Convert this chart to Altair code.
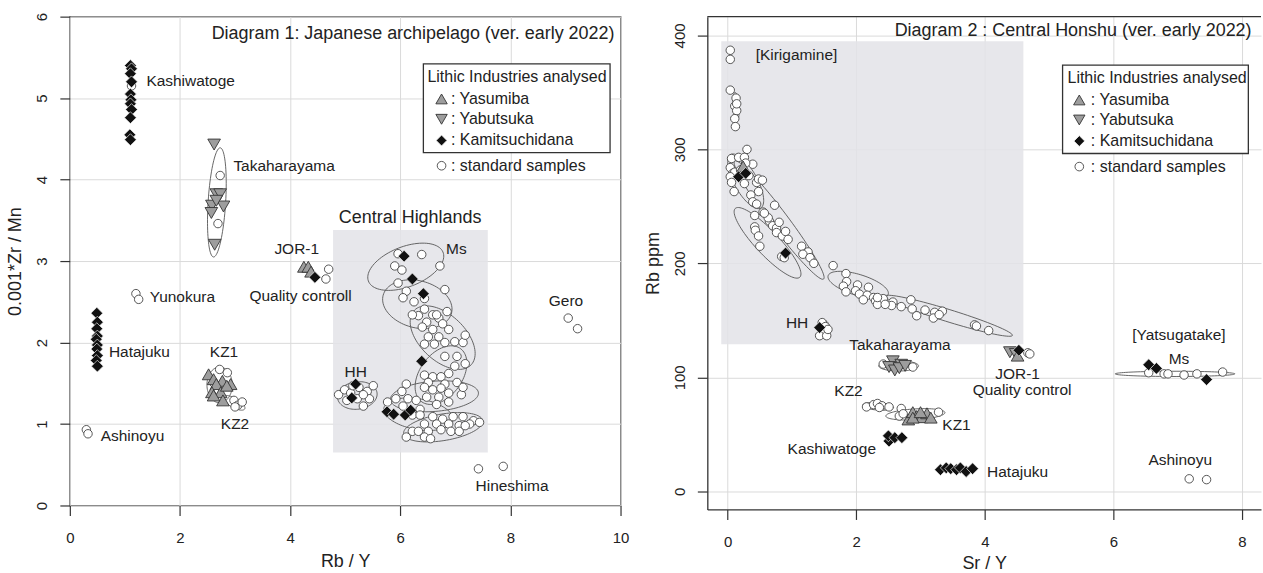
import altair as alt
import numpy as np
import pandas as pd

FONT = "Liberation Sans"
INK = "#222222"

# ================= Diagram 1 : Rb/Y  vs  0.001*Zr/Mn =================
d1_std_x = [1.12, 2.73, 2.69, 1.20, 1.25, 0.30, 0.33, 4.70, 4.65,
            2.72, 2.86, 2.62, 2.98, 3.05, 3.13, 3.00, 9.05, 9.22, 7.42, 7.87,
            4.88, 4.99, 5.10, 5.25, 5.40, 5.51, 5.03, 5.22, 5.33, 5.44, 5.33, 5.14,
            5.96, 6.39, 6.72, 5.90, 6.03, 5.96, 6.11, 6.05, 6.81, 6.25, 6.44, 6.44,
            6.33, 6.59, 6.85, 6.48, 6.70, 6.40, 6.59, 6.77, 6.88, 6.51, 6.70, 6.44,
            6.81, 6.99, 7.14, 7.18, 6.66, 6.22, 6.62,
            6.81, 7.03, 6.99, 7.18, 6.88, 6.44, 6.59, 6.74, 7.03, 6.51, 6.81, 6.44,
            6.59, 6.74, 6.88, 7.11, 6.48, 6.70, 6.88, 6.66, 7.14, 6.11, 6.03, 6.14,
            5.92, 6.29, 5.77, 6.05, 6.36,
            6.22, 6.36, 6.59, 6.77, 6.96, 7.14, 7.33, 7.44, 6.44, 6.66, 6.88, 7.07,
            7.26, 6.51, 6.74, 6.92, 7.07, 6.22, 6.33, 6.44, 6.11, 6.55, 7.18]
d1_std_y = [5.15, 4.05, 3.46, 2.60, 2.53, 0.93, 0.88, 2.90, 2.78,
            1.67, 1.63, 1.50, 1.29, 1.23, 1.27, 1.21, 2.30, 2.17, 0.45, 0.48,
            1.36, 1.42, 1.38, 1.45, 1.40, 1.47, 1.29, 1.31, 1.22, 1.31, 1.36, 1.47,
            3.09, 3.08, 2.94, 2.94, 2.89, 2.73, 2.63, 2.55, 2.65, 2.50, 2.54, 2.41,
            2.33, 2.34, 2.38, 2.25, 2.30, 2.19, 2.16, 2.23, 2.16, 2.07, 2.07, 1.98,
            2.00, 2.01, 2.00, 2.09, 2.34, 2.34, 1.98,
            1.83, 1.83, 1.71, 1.74, 1.62, 1.60, 1.58, 1.58, 1.51, 1.51, 1.49, 1.45,
            1.42, 1.44, 1.38, 1.36, 1.33, 1.33, 1.27, 1.24, 1.45, 1.49, 1.40, 1.31,
            1.31, 1.29, 1.27, 1.22, 1.18,
            1.11, 1.11, 1.09, 1.06, 1.09, 1.09, 1.04, 1.02, 1.00, 1.00, 1.00, 0.98,
            1.00, 0.91, 0.93, 0.91, 0.91, 0.91, 0.91, 0.84, 0.84, 0.82, 0.98]

# Kamitsuchidana (black diamonds)
d1_kami_x = [1.10, 1.12, 1.10, 1.12, 1.10, 1.11, 1.10, 1.12, 1.10, 1.09, 1.10,
             0.49, 0.50, 0.49, 0.50, 0.48, 0.50, 0.49, 0.50, 0.48, 0.50,
             4.45, 5.19, 5.12, 6.07, 6.22, 6.42, 6.39, 5.76, 5.88, 6.09, 6.19]
d1_kami_y = [5.40, 5.36, 5.30, 5.20, 5.05, 4.98, 4.93, 4.86, 4.76, 4.55, 4.49,
             2.36, 2.25, 2.17, 2.08, 2.04, 1.97, 1.92, 1.84, 1.78, 1.71,
             2.80, 1.49, 1.32, 3.06, 2.78, 2.60, 1.77, 1.15, 1.12, 1.11, 1.17]

# Yasumiba (grey triangles up)
d1_yasu_x = [2.52, 2.61, 2.77, 2.92, 2.66, 2.58, 2.74, 2.78, 2.61, 2.85, 4.25, 4.33, 4.38]
d1_yasu_y = [1.61, 1.55, 1.53, 1.49, 1.49, 1.39, 1.39, 1.29, 1.35, 1.47, 2.93, 2.93, 2.87]

# Yabutsuka (grey triangles down)
d1_yabu_x = [2.62, 2.66, 2.73, 2.58, 2.79, 2.57, 2.66, 2.63]
d1_yabu_y = [4.43, 3.82, 3.82, 3.68, 3.67, 3.59, 3.74, 3.20]

# confidence ellipses: centre, x-radius, y-radius, correlation
d1_ell_cx = [2.67, 2.72, 2.98, 5.22, 6.10, 6.31, 6.77, 6.74, 6.62, 6.33, 6.78]
d1_ell_cy = [3.72, 1.48, 1.26, 1.35, 2.93, 2.47, 2.06, 1.60, 1.34, 1.12, 0.96]
d1_ell_rx = [0.17, 0.23, 0.20, 0.36, 0.69, 0.63, 0.59, 0.47, 0.80, 0.63, 0.72]
d1_ell_ry = [0.67, 0.22, 0.09, 0.17, 0.29, 0.30, 0.39, 0.36, 0.19, 0.20, 0.18]
d1_ell_rho = [0.35, 0.0, -0.7, 0.1, 0.45, -0.2, -0.5, 0.4, 0.2, -0.3, 0.4]

d1_box = [4.78, 7.59, 0.65, 3.38]  # Central Highlands shaded area

d1_lab_text = ["Kashiwatoge", "Takaharayama", "Yunokura", "Hatajuku", "Ashinoyu",
               "JOR-1", "Quality controll", "KZ1", "KZ2", "HH", "Ms", "Gero", "Hineshima"]
d1_lab_x = [1.39, 2.97, 1.45, 0.71, 0.56, 4.12, 4.19, 2.80, 3.00, 5.19, 7.02, 9.01, 8.03]
d1_lab_y = [5.21, 4.17, 2.56, 1.88, 0.85, 3.15, 2.57, 1.88, 1.00, 1.64, 3.15, 2.51, 0.24]
d1_lab_align = ["left"] * 5 + ["center"] * 8

# ================= Diagram 2 : Sr/Y  vs  Rb ppm =================
d2_std_x = [0.04, 0.04, 0.04, 0.13, 0.11, 0.14, 0.11, 0.12, 0.14,
            0.06, 0.17, 0.30, 0.26, 0.39, 0.04, 0.08, 0.11, 0.04, 0.06, 0.10, 0.26,
            0.45, 0.48, 0.54, 0.33, 0.20, 0.28, 0.48, 0.36, 0.39, 0.45, 0.55, 0.73,
            0.42, 0.42, 0.43, 0.48, 0.50, 0.65, 0.70, 0.76, 0.80, 0.76, 0.85, 0.90,
            0.94, 0.84, 0.88, 1.15, 1.25, 1.17, 1.28, 1.34, 0.63, 0.57,
            1.64, 1.84, 1.85, 1.80, 1.84, 2.02, 1.99, 2.05, 2.19, 2.17, 2.27, 2.30,
            2.11, 2.33, 2.42, 2.57, 2.55, 2.70, 2.85, 2.87, 2.94, 3.07, 3.22, 3.34,
            3.20, 3.29, 3.84, 3.87, 4.06, 2.45, 2.33,
            1.47, 1.52, 1.48, 1.43, 1.54, 1.56,
            2.42, 2.88, 4.67, 4.70,
            6.55, 6.79, 6.85, 7.10, 7.30, 7.70,
            2.16, 2.27, 2.33, 2.40, 2.36, 2.51,
            2.70, 2.67, 3.28, 2.73,
            7.18, 7.45]
d2_std_y = [387, 379, 352, 345, 338, 334, 327, 320, 340,
            292, 293, 300, 293, 287, 284, 279, 280, 276, 271, 263, 270,
            271, 274, 273, 277, 282, 288, 263, 260, 254, 252, 245, 251,
            242, 232, 229, 224, 215, 237, 233, 231, 236, 227, 224, 228,
            221, 206, 205, 215, 210, 208, 205, 200, 240, 244,
            198, 191, 184, 180, 175, 181, 176, 173, 179, 172, 170, 167,
            168, 164, 169, 166, 163, 162, 168, 160, 154, 159, 157, 158,
            152, 155, 146, 145, 141, 164, 170,
            148, 144.5, 139.7, 136.5, 136.5, 142,
            111.6, 109, 121.5, 120.5,
            104, 103, 103, 102, 103, 104.6,
            74, 76, 77, 75, 73.5, 74,
            72.6, 66, 69.4, 68,
            10.9, 10.2]

d2_kami_x = [0.17, 0.28, 0.90, 1.43, 4.53, 6.55, 6.67, 7.45,
             2.51, 2.50, 2.60, 2.71,
             3.31, 3.40, 3.47, 3.56, 3.62, 3.71, 3.81]
d2_kami_y = [276, 279, 209, 143.6, 123.7, 111, 107.8, 98,
             44, 48.6, 47, 47,
             18.9, 20.5, 19.8, 18.9, 20.5, 17.3, 19.8]

d2_yasu_x = [0.24, 4.51, 2.81, 2.88, 2.94, 3.02, 3.10, 3.16, 2.88, 3.00]
d2_yasu_y = [285, 119, 63, 69.4, 66, 65, 68.4, 64.6, 64.6, 69.4]

d2_yabu_x = [2.57, 2.51, 2.60, 2.70, 2.67, 2.76, 4.39, 4.48]
d2_yabu_y = [114, 109, 106, 111, 108, 110, 122, 120.5]

d2_ell_cx = [0.13, 0.28, 0.80, 0.62, 2.03, 3.44, 2.66, 6.96, 2.34, 2.92, 1.50]
d2_ell_cy = [338, 272, 238, 218, 181, 154, 110, 103, 74.5, 67.5, 142]
d2_ell_rx = [0.05, 0.28, 0.70, 0.52, 0.47, 0.99, 0.31, 0.93, 0.24, 0.46, 0.09]
d2_ell_ry = [12, 24, 52, 31, 12, 18, 4.5, 2.3, 3.5, 5.0, 8]
d2_ell_rho = [-0.3, -0.7, -0.97, -0.88, -0.6, -0.95, 0.0, 0.0, -0.3, 0.3, 0.0]

d2_box = [-0.10, 4.60, 129, 395]  # Kirigamine shaded area

d2_lab_text = ["[Kirigamine]", "HH", "Takaharayama", "JOR-1", "Quality control",
               "[Yatsugatake]", "Ms", "KZ2", "KZ1", "Kashiwatoge", "Hatajuku", "Ashinoyu"]
d2_lab_x = [1.07, 1.08, 2.68, 4.51, 4.58, 7.02, 7.02, 1.88, 3.56, 1.62, 4.51, 7.04]
d2_lab_y = [382.7, 148, 128, 103, 88.5, 137.5, 116.4, 87.6, 58, 37.4, 17.3, 27]

legend_items = [": Yasumiba", ": Yabutsuka", ": Kamitsuchidana", ": standard samples"]
legend_title = "Lithic Industries analysed"


def ellipse_frame(cx, cy, rx, ry, rho):
    rows = []
    t = np.linspace(0, 2 * np.pi, 90)
    for i in range(len(cx)):
        s = np.sqrt(1 - rho[i] ** 2)
        xs = cx[i] + rx[i] * np.cos(t)
        ys = cy[i] + ry[i] * (rho[i] * np.cos(t) + s * np.sin(t))
        for k in range(len(t)):
            rows.append({"id": i, "k": k, "x": xs[k], "y": ys[k]})
    return pd.DataFrame(rows)


def panel(std_x, std_y, kami_x, kami_y, yasu_x, yasu_y, yabu_x, yabu_y,
          ell, box, lab_text, lab_x, lab_y, lab_align, extra_labels,
          legend_box, legend_title_pos, legend_sym_x, legend_txt_x, legend_ys,
          title_text, title_pos, xdom, ydom, W, H, xticks, yticks, xtitle, ytitle,
          x_lpad, x_tpad, y_lpad, y_tpad, framed):
    xscale = alt.Scale(domain=xdom, nice=False, zero=False)
    yscale = alt.Scale(domain=ydom, nice=False, zero=False)
    xaxis = alt.Axis(values=xticks, title=xtitle, tickSize=10, labelPadding=x_lpad,
                     titlePadding=x_tpad, domain=not framed, labelFlush=False,
                     format="d")
    yaxis = alt.Axis(values=yticks, title=ytitle, tickSize=10, labelPadding=y_lpad,
                     titlePadding=y_tpad, domain=not framed, labelAngle=270,
                     labelAlign="center", labelBaseline="alphabetic", labelFlush=False,
                     format="d")

    def X(f="x"):
        return alt.X(f, type="quantitative", scale=xscale, axis=xaxis)

    def Y(f="y"):
        return alt.Y(f, type="quantitative", scale=yscale, axis=yaxis)

    layers = []
    bdf = pd.DataFrame({"x0": [box[0]], "x1": [box[1]], "y0": [box[2]], "y1": [box[3]]})
    layers.append(alt.Chart(bdf).mark_rect(fill="#e3e3e7", opacity=0.85).encode(
        x=X("x0"), x2="x1", y=Y("y0"), y2="y1"))

    ldf = pd.DataFrame({"x0": [legend_box[0]], "x1": [legend_box[1]],
                        "y0": [legend_box[2]], "y1": [legend_box[3]]})
    layers.append(alt.Chart(ldf).mark_rect(fill="white", stroke="#333",
                                           strokeWidth=1.3).encode(
        x=X("x0"), x2="x1", y=Y("y0"), y2="y1"))

    layers.append(alt.Chart(ellipse_frame(*ell)).mark_line(
        stroke="#555", strokeWidth=0.9).encode(
        x=X(), y=Y(), detail="id:N", order="k:Q"))

    sdf = pd.DataFrame({"x": std_x, "y": std_y})
    layers.append(alt.Chart(sdf).mark_point(
        shape="circle", filled=True, color="white", stroke="#444",
        strokeWidth=0.9, size=72, opacity=1).encode(x=X(), y=Y()))

    ydf = pd.DataFrame({"x": yabu_x, "y": yabu_y})
    layers.append(alt.Chart(ydf).mark_point(
        shape="triangle-down", filled=True, color="#9d9d9d", stroke="#333",
        strokeWidth=0.9, size=160, opacity=1).encode(x=X(), y=Y()))

    adf = pd.DataFrame({"x": yasu_x, "y": yasu_y})
    layers.append(alt.Chart(adf).mark_point(
        shape="triangle-up", filled=True, color="#9d9d9d", stroke="#333",
        strokeWidth=0.9, size=160, opacity=1).encode(x=X(), y=Y()))

    kdf = pd.DataFrame({"x": kami_x, "y": kami_y})
    layers.append(alt.Chart(kdf).mark_point(
        shape="diamond", filled=True, color="#111", stroke="#eeeeee",
        strokeWidth=0.7, size=140, opacity=1).encode(x=X(), y=Y()))

    # legend symbols
    shapes = ["triangle-up", "triangle-down", "diamond", "circle"]
    fills = ["#9d9d9d", "#9d9d9d", "#111", "white"]
    strokes = ["#333", "#333", "white", "#444"]
    sizes = [130, 130, 120, 75]
    for i in range(4):
        df = pd.DataFrame({"x": [legend_sym_x], "y": [legend_ys[i]]})
        layers.append(alt.Chart(df).mark_point(
            shape=shapes[i], filled=True, color=fills[i], stroke=strokes[i],
            strokeWidth=0.9, size=sizes[i], opacity=1).encode(x=X(), y=Y()))
    tdf = pd.DataFrame({"x": [legend_txt_x] * 4, "y": legend_ys, "t": legend_items})
    layers.append(alt.Chart(tdf).mark_text(
        font=FONT, fontSize=16, color=INK, align="left", baseline="middle").encode(
        x=X(), y=Y(), text="t:N"))
    ltdf = pd.DataFrame({"x": [legend_title_pos[0]], "y": [legend_title_pos[1]],
                         "t": [legend_title]})
    layers.append(alt.Chart(ltdf).mark_text(
        font=FONT, fontSize=16, color=INK, align="center", baseline="middle").encode(
        x=X(), y=Y(), text="t:N"))

    # site labels
    lab = pd.DataFrame({"x": lab_x, "y": lab_y, "t": lab_text, "a": lab_align})
    for al in ["left", "center", "right"]:
        sub = lab[lab["a"] == al]
        if len(sub):
            layers.append(alt.Chart(sub).mark_text(
                font=FONT, fontSize=15.5, color=INK, align=al, baseline="middle").encode(
                x=X(), y=Y(), text="t:N"))
    for (txt, px, py, fs, al) in extra_labels:
        df = pd.DataFrame({"x": [px], "y": [py], "t": [txt]})
        layers.append(alt.Chart(df).mark_text(
            font=FONT, fontSize=fs, color=INK, align=al, baseline="middle").encode(
            x=X(), y=Y(), text="t:N"))

    tt = pd.DataFrame({"x": [title_pos[0]], "y": [title_pos[1]], "t": [title_text]})
    layers.append(alt.Chart(tt).mark_text(
        font=FONT, fontSize=18, color=INK, align="right", baseline="middle").encode(
        x=X(), y=Y(), text="t:N"))

    if not framed:
        layers.append(alt.Chart(sdf.head(1)).mark_rule(color="#333", strokeWidth=1.3).encode(
            x=alt.value(0), x2=alt.value(W), y=alt.value(0)))

    ch = alt.layer(*layers).properties(width=W, height=H)
    if not framed:
        ch = ch.properties(view=alt.ViewBackground(stroke="transparent"))
    return ch


left = panel(
    d1_std_x, d1_std_y, d1_kami_x, d1_kami_y, d1_yasu_x, d1_yasu_y, d1_yabu_x, d1_yabu_y,
    (d1_ell_cx, d1_ell_cy, d1_ell_rx, d1_ell_ry, d1_ell_rho), d1_box,
    d1_lab_text, d1_lab_x, d1_lab_y, d1_lab_align,
    [("Central Highlands", 6.18, 3.53, 18, "center")],
    [6.42, 9.81, 4.33, 5.42], (8.12, 5.26), 6.75, 6.92, [4.99, 4.74, 4.48, 4.17],
    "Diagram 1: Japanese archipelago (ver. early 2022)", (9.89, 5.79),
    [0, 10], [0, 6], 552, 490, [0, 2, 4, 6, 8, 10], [0, 1, 2, 3, 4, 5, 6],
    "Rb / Y", "0.001*Zr / Mn", 15, 7, 13, 10, True)

right = panel(
    d2_std_x, d2_std_y, d2_kami_x, d2_kami_y, d2_yasu_x, d2_yasu_y, d2_yabu_x, d2_yabu_y,
    (d2_ell_cx, d2_ell_cy, d2_ell_rx, d2_ell_ry, d2_ell_rho), d2_box,
    d2_lab_text, d2_lab_x, d2_lab_y, ["center"] * len(d2_lab_text),
    [],
    [5.21, 8.10, 296.4, 374], (6.68, 362.6), 5.47, 5.65, [343.4, 325.8, 307.3, 284.9],
    "Diagram 2 :  Central Honshu (ver. early 2022)", (8.15, 403.5),
    [-0.317, 8.297], [-16, 416.5], 555, 494, [0, 2, 4, 6, 8], [0, 100, 200, 300, 400],
    "Sr / Y", "Rb ppm", 15, 5, 13, 10, False)

chart = alt.hconcat(left, right, spacing=87, bounds="flush").properties(
    padding={"left": 6, "top": 11, "right": 0, "bottom": 0}
).configure_view(stroke="#333", strokeWidth=1.3).configure_axis(
    labelFont=FONT, labelFontSize=15, labelColor=INK,
    titleFont=FONT, titleFontSize=18, titleFontWeight="normal", titleColor=INK,
    tickColor="#333", tickWidth=1.2, domainColor="#333", domainWidth=1.3,
    gridColor="#dadada", gridWidth=1, labelOverlap=False
)

chart.save("out.html", embed_options={"renderer": "svg", "actions": False})
